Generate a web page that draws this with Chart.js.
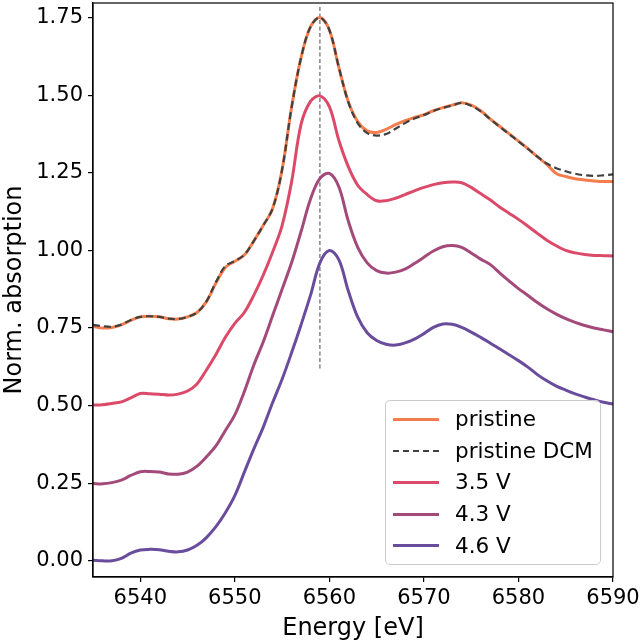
<!DOCTYPE html>
<html>
<head>
<meta charset="utf-8">
<script src="https://cdn.jsdelivr.net/npm/chart.js@4/dist/chart.umd.min.js"></script>
<style>
  html, body { margin: 0; padding: 0; background: #fff; }
  #wrap { position: relative; width: 640px; height: 643px; }
  #c { position: absolute; left: 0; top: 0; }
  #legend {
    position: absolute; left: 385px; top: 400px; width: 216px; height: 165px;
    border: 1px solid #cccccc; border-radius: 5px; background: rgba(255,255,255,0.8);
    font-family: "DejaVu Sans", sans-serif; font-size: 21.5px; color: #000;
    box-sizing: border-box;
  }
  .item { position: absolute; left: 0; height: 30px; width: 100%; }
  .swatch { position: absolute; left: 7px; width: 46px; top: 50%; }
  .label { position: absolute; left: 69px; top: 50%; transform: translateY(-54%); white-space: nowrap; }
</style>
</head>
<body>
<div id="wrap">
  <canvas id="c" width="640" height="643"></canvas>
  <div id="legend"></div>
</div>
<script>
// ---- data ----
const energy = [6535,6536,6537,6538,6539,6540,6541,6542,6543,6544,6545,6546,6547,6548,6549,6550,6551,6552,6553,6554,6555,6556,6557,6558,6559,6560,6561,6562,6563,6564,6565,6566,6567,6568,6569,6570,6571,6572,6573,6574,6575,6576,6577,6578,6579,6580,6581,6582,6583,6584,6585,6586,6587,6588,6589,6590];

const pristine = [0.755,0.750,0.752,0.760,0.775,0.786,0.788,0.786,0.780,0.779,0.786,0.800,0.835,0.895,0.945,0.965,0.985,1.030,1.080,1.135,1.260,1.460,1.620,1.720,1.750,1.710,1.590,1.480,1.415,1.385,1.380,1.390,1.405,1.418,1.428,1.437,1.450,1.460,1.468,1.476,1.468,1.450,1.424,1.400,1.376,1.352,1.328,1.302,1.277,1.248,1.238,1.231,1.227,1.224,1.222,1.222];

const pristineDCM = [0.760,0.756,0.754,0.761,0.776,0.786,0.788,0.786,0.780,0.779,0.786,0.800,0.836,0.898,0.950,0.966,0.986,1.030,1.080,1.135,1.260,1.460,1.620,1.720,1.750,1.710,1.590,1.478,1.410,1.378,1.370,1.375,1.392,1.410,1.425,1.436,1.449,1.459,1.467,1.475,1.466,1.448,1.423,1.399,1.375,1.351,1.327,1.302,1.280,1.265,1.255,1.247,1.242,1.240,1.242,1.245];

const v35 = [0.502,0.503,0.507,0.512,0.525,0.539,0.538,0.537,0.534,0.537,0.547,0.570,0.615,0.665,0.720,0.765,0.800,0.855,0.920,0.995,1.080,1.220,1.405,1.480,1.498,1.463,1.355,1.270,1.210,1.180,1.160,1.160,1.168,1.180,1.192,1.203,1.212,1.218,1.220,1.218,1.203,1.183,1.163,1.140,1.120,1.100,1.078,1.055,1.033,1.015,1.000,0.992,0.987,0.984,0.983,0.982];

const v43 = [0.249,0.248,0.252,0.260,0.275,0.287,0.288,0.286,0.280,0.279,0.286,0.305,0.335,0.370,0.420,0.470,0.545,0.630,0.705,0.790,0.875,0.960,1.060,1.165,1.232,1.248,1.205,1.095,1.010,0.960,0.935,0.927,0.930,0.940,0.958,0.978,0.998,1.012,1.016,1.010,0.992,0.972,0.955,0.928,0.902,0.877,0.855,0.832,0.812,0.795,0.780,0.768,0.758,0.750,0.744,0.738];

const v46 = [0.002,0.000,0.000,0.008,0.025,0.035,0.037,0.036,0.031,0.029,0.035,0.050,0.075,0.110,0.155,0.210,0.285,0.360,0.430,0.510,0.585,0.670,0.760,0.855,0.960,1.000,0.970,0.870,0.785,0.735,0.710,0.698,0.695,0.702,0.714,0.732,0.752,0.763,0.762,0.752,0.737,0.720,0.702,0.683,0.664,0.645,0.624,0.600,0.580,0.563,0.550,0.538,0.528,0.519,0.511,0.505];

const refLineX = [6559, 6559];
const refLineY = [0.62, 1.786];

const xTicks = [6540, 6550, 6560, 6570, 6580, 6590];
const yTicks = [0.00, 0.25, 0.50, 0.75, 1.00, 1.25, 1.50, 1.75];

const seriesNames = ["pristine", "pristine DCM", "3.5 V", "4.3 V", "4.6 V"];
const seriesColors = ["#f47d4d", "#404040", "#dc4a6a", "#a34a7a", "#6a4c9c"];

// ---- build chart ----
const seriesValues = [pristine, pristineDCM, v35, v43, v46];
const toPts = (xs, ys) => xs.map((x, i) => ({ x: x, y: ys[i] }));

const datasets = [];
seriesValues.forEach((vals, i) => {
  const dashed = i === 1;
  datasets.push({
    label: seriesNames[i],
    data: toPts(energy, vals),
    borderColor: seriesColors[i],
    backgroundColor: seriesColors[i],
    borderWidth: dashed ? 2.2 : 3,
    borderDash: dashed ? [7, 4] : [],
    pointRadius: 0,
    tension: 0.35,
    fill: false,
    order: dashed ? 0 : (i === 0 ? 1 : 2)
  });
});
datasets.push({
  label: 'ref',
  data: toPts(refLineX, refLineY),
  borderColor: '#666666',
  borderWidth: 1.2,
  borderDash: [4, 2.5],
  pointRadius: 0,
  fill: false,
  order: 3
});

const FONT = '"DejaVu Sans", sans-serif';

const frame = {
  id: 'frame',
  afterDatasetsDraw(chart) {
    const a = chart.chartArea, ctx = chart.ctx;
    ctx.save();
    ctx.strokeStyle = '#000';
    ctx.lineWidth = 1.2;
    ctx.strokeRect(a.left, a.top, a.right - a.left, a.bottom - a.top);
    ctx.restore();
  }
};

const noPad = s => { s.paddingTop = 0; s.paddingBottom = 0; s.paddingLeft = 0; s.paddingRight = 0; };

new Chart(document.getElementById('c'), {
  type: 'line',
  data: { datasets },
  options: {
    responsive: false,
    animation: false,
    events: [],
    layout: { padding: { left: 0, right: 27, top: 3, bottom: 0 } },
    plugins: { legend: { display: false }, tooltip: { enabled: false } },
    scales: {
      x: {
        type: 'linear', min: 6535, max: 6590,
        afterBuildTicks: s => { s.ticks = xTicks.map(v => ({ value: v })); },
        afterFit: s => { s.height = 66; noPad(s); },
        grid: { drawOnChartArea: false, drawTicks: true, tickLength: 5, color: '#000', lineWidth: 1.2 },
        border: { display: true, color: '#000', width: 1.2 },
        ticks: { color: '#000', font: { family: FONT, size: 21 }, padding: 4, maxRotation: 0, callback: v => String(v) },
        title: { display: true, text: 'Energy [eV]', color: '#000', font: { family: FONT, size: 24 }, padding: { top: 0, bottom: 0 } }
      },
      y: {
        type: 'linear', min: -0.052, max: 1.797,
        afterBuildTicks: s => { s.ticks = yTicks.map(v => ({ value: v })); },
        afterFit: s => { s.width = 93; noPad(s); },
        grid: { drawOnChartArea: false, drawTicks: true, tickLength: 5, color: '#000', lineWidth: 1.2 },
        border: { display: true, color: '#000', width: 1.2 },
        ticks: { color: '#000', font: { family: FONT, size: 21 }, padding: 5, callback: v => v.toFixed(2) },
        title: { display: true, text: 'Norm. absorption', color: '#000', font: { family: FONT, size: 24 }, padding: { top: 0, bottom: 0 } }
      }
    }
  },
  plugins: [frame]
});

// ---- legend (HTML, built from the series arrays) ----
const legend = document.getElementById('legend');
seriesNames.forEach((name, i) => {
  const item = document.createElement('div');
  item.className = 'item';
  item.style.top = (3 + i * 31.7) + 'px';
  const sw = document.createElement('div');
  sw.className = 'swatch';
  if (i === 1) {
    sw.style.borderTop = '2px dashed ' + seriesColors[i];
    sw.style.marginTop = '-1px';
  } else {
    sw.style.borderTop = '3px solid ' + seriesColors[i];
    sw.style.marginTop = '-1.5px';
  }
  const lb = document.createElement('div');
  lb.className = 'label';
  lb.textContent = name;
  item.appendChild(sw);
  item.appendChild(lb);
  legend.appendChild(item);
});
</script>
</body>
</html>
